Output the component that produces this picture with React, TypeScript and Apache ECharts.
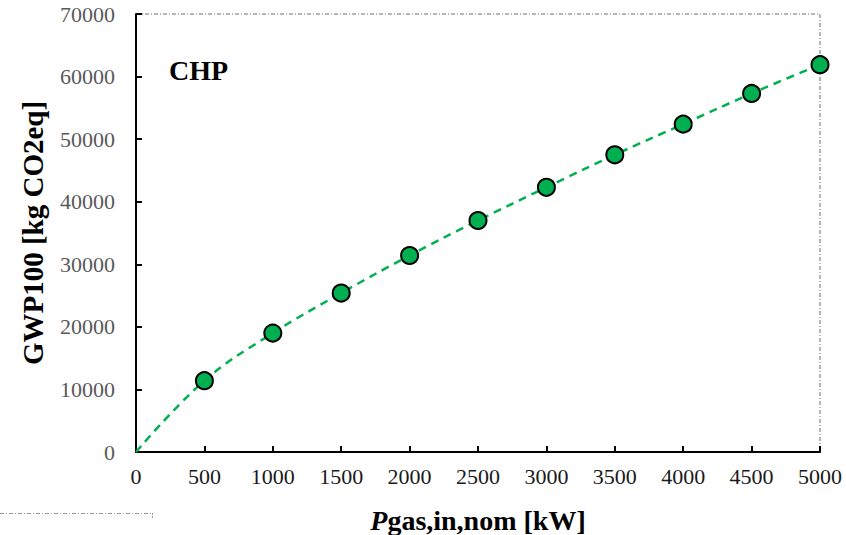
import React, { useEffect, useRef } from "react";
import * as echarts from "echarts";

// Nominal gas input power [kW]
const powerKW = [500, 1000, 1500, 2000, 2500, 3000, 3500, 4000, 4500, 5000];
// GWP100 [kg CO2eq] for each CHP size
const gwp = [11400, 19000, 25400, 31400, 37000, 42300, 47500, 52400, 57300, 61900];
// Trend curve passes through the origin and the measured points
const trendX = [0, ...powerKW];
const trendY = [0, ...gwp];

const xTicks = { min: 0, max: 5000, interval: 500 };
const yTicks = { min: 0, max: 70000, interval: 10000 };

const GREEN = "#00B050";
const FONT = "'Liberation Serif', 'Times New Roman', serif";

const plain = (v: number) => String(v);

export default function App() {
  const ref = useRef<HTMLDivElement>(null);

  useEffect(() => {
    if (!ref.current) return;
    const chart = echarts.init(ref.current, null, { renderer: "svg" });
    chart.setOption({
      animation: false,
      backgroundColor: "#ffffff",
      grid: {
        left: 136,
        right: 26,
        top: 14,
        bottom: 83,
        outerBoundsMode: "none",
        containLabel: false,
        show: true,
        borderColor: "#6e6e6e",
        borderWidth: 1,
        borderType: [4, 2, 1, 2],
      },
      xAxis: {
        type: "value",
        ...xTicks,
        axisLine: { show: true, lineStyle: { color: "#000", width: 2 } },
        axisTick: { show: true, inside: true, length: 6, lineStyle: { color: "#000", width: 2 } },
        splitLine: { show: false },
        axisLabel: { color: "#1a1a1a", fontFamily: FONT, fontSize: 22, margin: 13, formatter: plain },
        name: "{i|P}{b|gas,in,nom [kW]}",
        nameLocation: "middle",
        nameGap: 54,
        nameTextStyle: {
          rich: {
            i: { fontFamily: FONT, fontSize: 28, fontWeight: "bold", fontStyle: "italic", color: "#000" },
            b: { fontFamily: FONT, fontSize: 28, fontWeight: "bold", color: "#000" },
          },
        },
      },
      yAxis: {
        type: "value",
        ...yTicks,
        axisLine: { show: true, lineStyle: { color: "#000", width: 2 } },
        axisTick: { show: true, inside: true, length: 6, lineStyle: { color: "#000", width: 2 } },
        splitLine: { show: false },
        axisLabel: { color: "#595959", fontFamily: FONT, fontSize: 22, margin: 21, formatter: plain },
        name: "GWP100 [kg CO2eq]",
        nameLocation: "middle",
        nameGap: 89,
        nameTextStyle: { fontFamily: FONT, fontSize: 29, fontWeight: "bold", color: "#000" },
      },
      graphic: [
        {
          type: "text",
          left: 169,
          top: 56,
          style: { text: "CHP", font: `bold 28px ${FONT}`, fill: "#000" },
        },
        {
          type: "line",
          shape: { x1: 0, y1: 513.5, x2: 152, y2: 513.5 },
          style: { stroke: "#9a9a9a", lineWidth: 1, lineDash: [4, 2, 1, 2] },
        },
        {
          type: "line",
          shape: { x1: 152.5, y1: 513, x2: 152.5, y2: 519 },
          style: { stroke: "#9a9a9a", lineWidth: 1, lineDash: [2, 1] },
        },
      ],
      series: [
        {
          type: "line",
          data: trendX.map((x, i) => [x, trendY[i]]),
          smooth: 0.4,
          showSymbol: false,
          symbol: "none",
          lineStyle: { color: GREEN, width: 2.5, type: [8, 6] },
          z: 2,
        },
        {
          type: "scatter",
          data: powerKW.map((x, i) => [x, gwp[i]]),
          symbol: "circle",
          symbolSize: 17,
          itemStyle: { color: GREEN, borderColor: "#000", borderWidth: 2, opacity: 1 },
          z: 3,
        },
      ],
    });
    return () => chart.dispose();
  }, []);

  return (
    <div
      ref={ref}
      style={{ position: "absolute", left: 0, top: 0, width: 846, height: 535 }}
    />
  );
}
